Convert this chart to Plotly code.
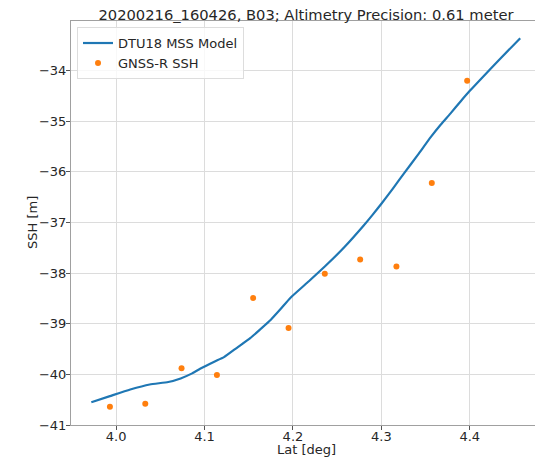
import plotly.graph_objects as go

model_lat = [3.972, 3.993, 4.016, 4.038, 4.059, 4.073, 4.086, 4.095, 4.111, 4.122,
             4.137, 4.152, 4.163, 4.175, 4.186, 4.197, 4.218, 4.236, 4.258, 4.280,
             4.290, 4.300, 4.313, 4.326, 4.341, 4.356, 4.367, 4.378, 4.390, 4.400,
             4.415, 4.433, 4.457]
model_ssh = [-40.55, -40.43, -40.30, -40.20, -40.15, -40.08, -39.98, -39.89, -39.75, -39.66,
             -39.47, -39.28, -39.11, -38.92, -38.71, -38.49, -38.16, -37.87, -37.49, -37.06,
             -36.85, -36.63, -36.33, -36.02, -35.67, -35.31, -35.07, -34.85, -34.60, -34.40,
             -34.12, -33.79, -33.36]

gnss_lat = [3.993, 4.033, 4.074, 4.114, 4.155, 4.195, 4.236, 4.276, 4.317, 4.357, 4.397]
gnss_ssh = [-40.64, -40.58, -39.88, -40.01, -38.49, -39.085, -38.01, -37.73, -37.87, -36.22, -34.20]

x_ticks = [4.0, 4.1, 4.2, 4.3, 4.4]
y_ticks = [-41, -40, -39, -38, -37, -36, -35, -34]

fig = go.Figure()
fig.add_trace(go.Scatter(x=model_lat, y=model_ssh, mode="lines", name="DTU18 MSS Model",
                         line=dict(color="#1f77b4", width=2.2, shape="spline", smoothing=0.5)))
fig.add_trace(go.Scatter(x=gnss_lat, y=gnss_ssh, mode="markers", name="GNSS-R SSH",
                         marker=dict(color="#ff7f0e", size=6)))

font = "DejaVu Sans"
txt = "#262626"
fig.update_layout(
    width=543, height=457,
    margin=dict(l=63, r=10, t=13, b=40),
    paper_bgcolor="white", plot_bgcolor="white",
    font=dict(family=font, size=13, color=txt),
    title=dict(text="20200216_160426, B03; Altimetry Precision: 0.61 meter",
               x=0.5, xref="paper", xanchor="center", y=0.986, yref="container", yanchor="middle",
               pad=dict(t=0, b=0), font=dict(size=14.7, color=txt)),
    showlegend=True,
    legend=dict(x=0.0128, y=0.985, xanchor="left", yanchor="top",
                bgcolor="rgba(255,255,255,0.8)", bordercolor="#dddddd", borderwidth=1,
                font=dict(size=13), tracegroupgap=0),
    xaxis=dict(range=[3.949, 4.4805], tickvals=x_ticks, ticktext=[f"{v:.1f}" for v in x_ticks],
               automargin=False, ticklabelstandoff=-5,
               showgrid=True, gridcolor="#dcdcdc", gridwidth=1,
               showline=True, linecolor="#a0a0a0", linewidth=1, mirror=True,
               ticks="outside", ticklen=4, tickcolor="#555555", zeroline=False),
    yaxis=dict(range=[-41, -33.02], tickvals=y_ticks,
               automargin=False, ticklabelstandoff=-3,
               showgrid=True, gridcolor="#dcdcdc", gridwidth=1,
               showline=True, linecolor="#a0a0a0", linewidth=1, mirror=True,
               ticks="outside", ticklen=4, tickcolor="#555555", zeroline=False),
    annotations=[
        dict(text="Lat [deg]", xref="paper", yref="paper", x=0.5, y=0,
             xanchor="center", yanchor="middle", yshift=-24, showarrow=False,
             font=dict(size=13, color=txt)),
        dict(text="SSH [m]", xref="paper", yref="paper", x=0, y=0.5,
             xanchor="center", yanchor="middle", xshift=-39, textangle=-90, showarrow=False,
             font=dict(size=13, color=txt)),
    ],
)

fig.write_html("out.html")
